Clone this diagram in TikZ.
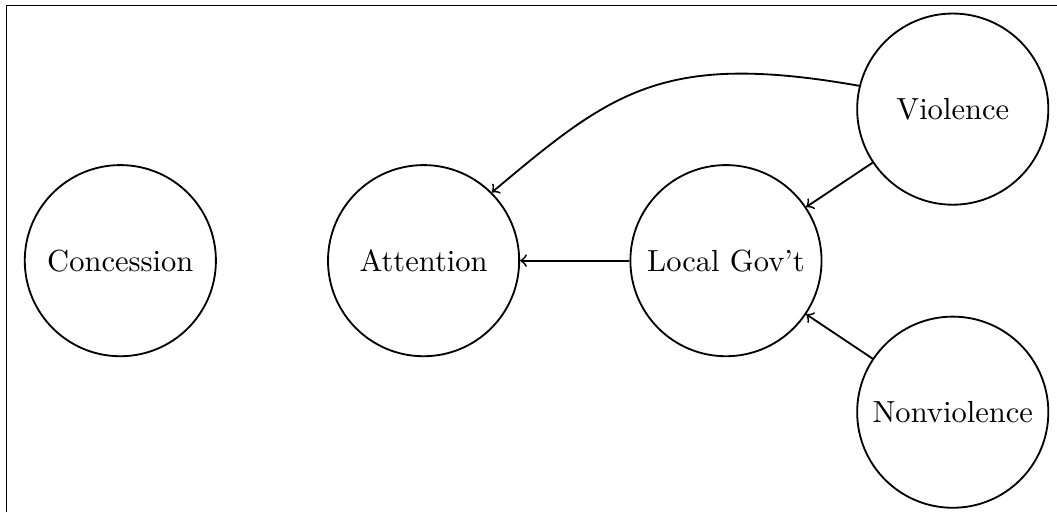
\documentclass[tikz,border=0pt]{standalone}
\usepackage{tikz}

\begin{document}
\begin{tikzpicture}[var/.style={circle, draw, semithick, minimum size=2.2cm}]
    
    % Page + frame edges
    \useasboundingbox (-1.385,-2.895) rectangle (10.78,3.0);
    \draw (-1.308,-2.895) -- (-1.308,2.939) -- (10.78,2.939);
    
    % Variables
    \node[var] (con) at (0,0) {Concession};
    \node[var] (att) at (3.49,0) {Attention};
    \node[var] (loc) at (6.97,0) {Local Gov't};
    \node[var] (vio) at (9.58,1.744) {Violence};
    \node[var] (non) at (9.58,-1.744) {Nonviolence};
    
    % Effects
    \draw[semithick,->] (loc) -- (att);
    \draw[semithick,->] (vio) -- (loc);
    \draw[semithick,->] (non) -- (loc);
    \draw[semithick,->] (vio.166) .. controls +(170:2.3) and +(40:1.8) .. (att.45);
    
\end{tikzpicture}
\end{document}
